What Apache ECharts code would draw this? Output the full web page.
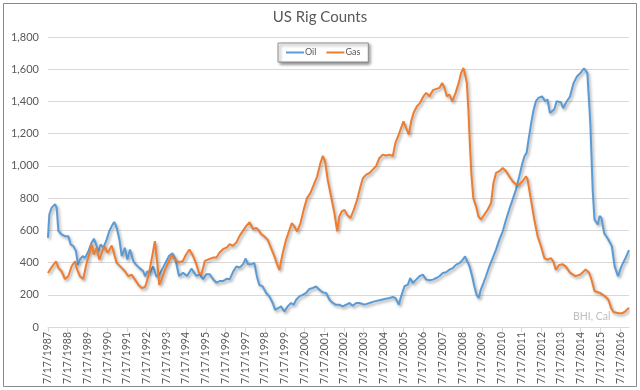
<!DOCTYPE html>
<html>
<head>
<meta charset="utf-8">
<script src="https://cdn.jsdelivr.net/npm/echarts@6/dist/echarts.min.js"></script>
<style>
html,body{margin:0;padding:0;background:#fff;}
#chart{width:640px;height:390px;}
</style>
</head>
<body>
<div id="chart"></div>
<script>
// Axis origin: 7/17/1987 expressed as decimal year
const startYear = 1987.542;
const endYear = 2016.99;
const firstLabelYear = 1987;
const yTicks = [0, 200, 400, 600, 800, 1000, 1200, 1400, 1600, 1800];

const oilYears = [1987.54,1987.61,1987.73,1987.90,1987.98,1988.07,1988.23,1988.40,1988.57,1988.69,1988.83,1988.96,1989.06,1989.16,1989.30,1989.42,1989.59,1989.75,1989.87,1989.98,1990.09,1990.21,1990.35,1990.52,1990.65,1990.82,1990.90,1991.02,1991.16,1991.28,1991.44,1991.56,1991.70,1991.87,1992.00,1992.17,1992.37,1992.46,1992.58,1992.70,1992.87,1993.04,1993.20,1993.46,1993.68,1993.85,1994.00,1994.18,1994.39,1994.59,1994.81,1995.06,1995.23,1995.40,1995.57,1995.74,1995.91,1996.08,1996.24,1996.41,1996.61,1996.75,1996.92,1997.09,1997.26,1997.43,1997.56,1997.68,1997.85,1998.00,1998.13,1998.25,1998.42,1998.60,1998.76,1998.93,1999.05,1999.22,1999.35,1999.52,1999.69,1999.86,1999.99,2000.12,2000.28,2000.45,2000.62,2000.79,2000.96,2001.13,2001.30,2001.47,2001.64,2001.81,2001.98,2002.14,2002.31,2002.48,2002.65,2002.82,2002.99,2003.16,2003.33,2003.58,2003.84,2004.09,2004.34,2004.60,2004.85,2005.02,2005.15,2005.32,2005.44,2005.61,2005.78,2005.90,2006.03,2006.20,2006.37,2006.54,2006.71,2006.88,2007.05,2007.22,2007.38,2007.55,2007.72,2007.89,2008.06,2008.23,2008.40,2008.57,2008.68,2008.78,2008.90,2009.04,2009.15,2009.26,2009.37,2009.48,2009.61,2009.74,2009.91,2010.08,2010.25,2010.42,2010.59,2010.76,2010.92,2011.09,2011.26,2011.43,2011.57,2011.69,2011.80,2011.90,2012.02,2012.14,2012.27,2012.40,2012.58,2012.74,2012.86,2012.98,2013.08,2013.20,2013.32,2013.42,2013.54,2013.65,2013.83,2014.00,2014.18,2014.35,2014.53,2014.71,2014.88,2015.03,2015.15,2015.24,2015.33,2015.41,2015.50,2015.59,2015.73,2015.94,2016.12,2016.26,2016.43,2016.61,2016.82,2016.99];
const oilValues = [554,700,741,762,741,596,575,564,564,512,502,471,387,419,440,429,471,523,548,512,471,512,492,544,596,637,652,617,544,440,492,419,481,408,387,367,346,315,346,337,375,312,327,390,442,458,421,317,337,317,362,317,327,296,327,327,296,275,285,285,300,296,342,375,369,390,425,390,390,397,314,262,252,211,190,149,107,118,128,97,128,149,138,169,190,200,211,236,242,252,231,215,211,169,149,138,138,128,138,149,132,149,149,139,149,159,166,174,180,186,180,139,190,253,263,304,273,294,315,325,294,290,294,304,315,335,340,356,366,387,397,418,439,410,380,315,253,201,180,232,273,315,377,428,480,542,594,667,729,791,853,936,1008,1060,1081,1163,1256,1339,1401,1422,1432,1401,1412,1329,1318,1350,1401,1412,1395,1359,1400,1431,1514,1555,1576,1606,1576,1266,853,667,650,636,690,677,584,543,502,378,316,378,430,477];

const gasYears = [1987.54,1987.70,1987.95,1988.07,1988.23,1988.40,1988.57,1988.74,1988.91,1989.02,1989.16,1989.33,1989.46,1989.64,1989.75,1989.87,1990.00,1990.14,1990.30,1990.40,1990.57,1990.77,1990.88,1991.02,1991.28,1991.44,1991.61,1991.78,1991.95,1992.12,1992.29,1992.46,1992.58,1992.71,1992.84,1992.96,1993.08,1993.18,1993.30,1993.47,1993.66,1993.81,1993.98,1994.15,1994.37,1994.54,1994.71,1994.89,1995.06,1995.19,1995.32,1995.49,1995.70,1995.91,1996.08,1996.24,1996.41,1996.61,1996.75,1996.92,1997.09,1997.26,1997.43,1997.60,1997.76,1997.93,1998.10,1998.22,1998.34,1998.51,1998.68,1998.85,1999.02,1999.19,1999.27,1999.44,1999.61,1999.78,1999.90,2000.03,2000.17,2000.34,2000.50,2000.67,2000.84,2001.01,2001.18,2001.35,2001.47,2001.59,2001.72,2001.89,2002.06,2002.20,2002.31,2002.43,2002.57,2002.70,2002.87,2003.04,2003.21,2003.38,2003.50,2003.67,2003.84,2004.00,2004.17,2004.34,2004.51,2004.68,2004.85,2005.02,2005.15,2005.32,2005.44,2005.56,2005.69,2005.83,2005.95,2006.07,2006.24,2006.40,2006.57,2006.71,2006.88,2007.05,2007.22,2007.38,2007.52,2007.64,2007.76,2007.89,2008.03,2008.20,2008.36,2008.48,2008.60,2008.70,2008.77,2008.85,2008.92,2009.00,2009.10,2009.24,2009.36,2009.49,2009.66,2009.83,2010.00,2010.12,2010.25,2010.42,2010.59,2010.76,2010.92,2011.09,2011.26,2011.43,2011.60,2011.77,2011.85,2012.02,2012.19,2012.36,2012.53,2012.70,2012.86,2013.03,2013.15,2013.28,2013.45,2013.62,2013.79,2014.00,2014.27,2014.53,2014.79,2014.97,2015.10,2015.24,2015.50,2015.76,2015.94,2016.08,2016.20,2016.47,2016.64,2016.82,2016.99];
const gasValues = [335,367,408,367,346,298,315,377,408,356,315,298,377,460,512,450,492,419,471,502,460,506,460,398,367,346,315,325,294,262,242,248,294,367,450,533,398,262,294,356,408,444,419,402,408,450,481,442,390,337,327,410,421,431,431,462,483,494,514,504,525,567,598,629,650,608,614,600,578,562,541,490,438,376,355,459,541,603,645,624,593,645,727,800,831,882,934,1017,1062,1027,913,810,707,593,686,717,727,696,676,727,789,872,923,946,956,977,998,1049,1070,1064,1070,1060,1143,1194,1236,1277,1236,1194,1277,1329,1370,1391,1432,1453,1432,1470,1478,1484,1515,1484,1432,1443,1401,1453,1515,1577,1608,1557,1515,1350,1150,950,800,749,687,667,698,729,770,894,956,967,987,967,936,905,884,884,905,936,915,791,667,563,501,428,418,428,408,356,385,390,375,337,316,326,357,337,290,223,213,192,171,120,93,85,85,99,120];

function toSeries(years, values) {
  return years.map((y, i) => [y - startYear, values[i]]);
}

const chart = echarts.init(document.getElementById('chart'));
const txt = '#595959';
const fontFam = 'Lato, "Liberation Sans", sans-serif';

chart.setOption({
  animation: false,
  textStyle: { fontFamily: fontFam },
  title: {
    text: 'US Rig Counts',
    left: 'center',
    top: 5,
    textStyle: { fontSize: 15, fontWeight: 'normal', color: txt, fontFamily: fontFam }
  },
  legend: {
    data: ['Oil', 'Gas'],
    left: 278,
    top: 43,
    icon: 'rect',
    itemWidth: 18,
    itemHeight: 2,
    itemGap: 10,
    padding: [5, 8, 5, 8],
    backgroundColor: '#fff',
    borderColor: '#8c8c8c',
    borderWidth: 1,
    shadowColor: 'rgba(0,0,0,0.45)',
    shadowBlur: 3,
    shadowOffsetX: 2,
    shadowOffsetY: 2,
    textStyle: { fontSize: 9, color: txt, fontFamily: fontFam, padding: [0, 0, 0, -4] }
  },
  graphic: [
    {
      type: 'rect',
      shape: { x: 3.5, y: 3.5, width: 633, height: 383 },
      style: { fill: 'none', stroke: '#8a8a8a', lineWidth: 1 },
      silent: true
    },
    {
      type: 'text',
      left: 573,
      top: 311,
      style: { text: 'BHI, Cal', fill: '#bfbfbf', fontSize: 10.5, fontFamily: fontFam }
    }
  ],
  grid: { left: 48, right: 11, top: 37, bottom: 63, containLabel: false },
  xAxis: {
    type: 'value',
    min: 0,
    max: endYear - startYear,
    interval: 1,
    splitLine: { show: false },
    axisLine: { show: true, lineStyle: { color: '#d9d9d9' } },
    axisTick: { show: true, length: 5, lineStyle: { color: '#d9d9d9' } },
    axisLabel: {
      rotate: 90,
      fontSize: 10.5,
      color: txt,
      margin: 5,
      showMaxLabel: false,
      formatter: function (v) {
        const r = Math.round(v);
        if (Math.abs(v - r) > 1e-6) return '';
        return '7/17/' + (firstLabelYear + r);
      }
    }
  },
  yAxis: {
    type: 'value',
    min: yTicks[0],
    max: yTicks[yTicks.length - 1],
    interval: 200,
    axisLine: { show: false },
    axisTick: { show: false },
    splitLine: { lineStyle: { color: '#d9d9d9', width: 1 } },
    axisLabel: {
      fontSize: 11,
      color: txt,
      margin: 9,
      formatter: function (v) { return v.toLocaleString('en-US'); }
    }
  },
  series: [
    {
      name: 'Oil',
      type: 'line',
      data: toSeries(oilYears, oilValues),
      showSymbol: false,
      color: '#5B9BD5',
      lineStyle: { width: 2, color: '#5B9BD5', shadowColor: 'rgba(0,0,0,0.35)', shadowBlur: 3, shadowOffsetX: 1.5, shadowOffsetY: 2 },
      z: 3
    },
    {
      name: 'Gas',
      type: 'line',
      data: toSeries(gasYears, gasValues),
      showSymbol: false,
      color: '#ED7D31',
      lineStyle: { width: 2, color: '#ED7D31', shadowColor: 'rgba(0,0,0,0.35)', shadowBlur: 3, shadowOffsetX: 1.5, shadowOffsetY: 2 },
      z: 4
    }
  ]
});
</script>
</body>
</html>
